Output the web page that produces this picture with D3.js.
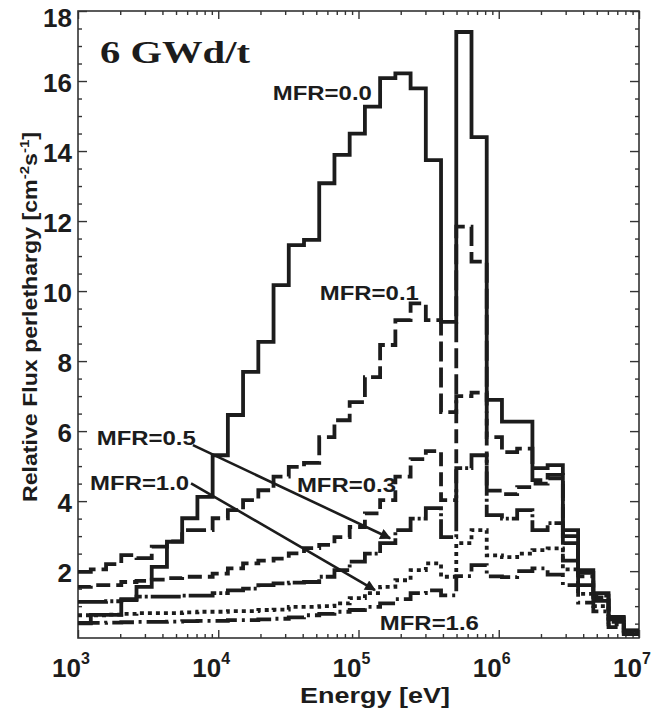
<!DOCTYPE html>
<html>
<head>
<meta charset="utf-8">
<script src="https://cdnjs.cloudflare.com/ajax/libs/d3/7.8.5/d3.min.js"></script>
<style>
body{margin:0;background:#fff;}
svg{display:block;}
text{font-family:"Liberation Sans",Arial,sans-serif;font-weight:bold;fill:#1c1c1c;}
</style>
</head>
<body>
<div id="chart"></div>
<script>

// group boundaries [eV], lethargy width 0.25, ascending
var edges=[1000,1234,1585,2035,2613,3355,4307,5531,7102,9119,
  11710,15030,19310,24790,31830,40870,52480,67380,86520,111100,
  142600,183200,235200,302000,387700,497900,639300,820800,1054000,1353000,
  1738000,2231000,2865000,3679000,4724000,6065000,7788000,10000000];

// relative flux per lethargy, one value per group
var mfr00=[0.52,0.75,0.75,1.17,1.55,2.12,2.84,3.51,4.12,5.31,
  6.46,7.69,8.55,10.17,11.31,11.46,13.08,13.89,14.5,15.27,
  16.08,16.22,15.79,13.74,9.12,17.4,14.4,6.89,6.27,6.27,
  4.94,5.03,3.17,2.03,1.37,0.69,0.31];
var mfr01=[1.98,2.05,2.2,2.46,2.37,2.7,2.85,3.17,3.17,3.51,
  3.74,4.03,4.31,4.7,4.98,5.09,5.83,6.31,6.83,7.54,
  8.46,9.17,9.65,9.17,6.54,11.84,10.84,5.83,5.4,5.5,
  4.6,4.75,3.0,1.95,1.3,0.66,0.3];
var mfr03=[1.55,1.6,1.6,1.69,1.72,1.76,1.8,1.84,1.84,1.93,
  2.08,2.22,2.3,2.36,2.51,2.66,2.75,2.97,3.26,3.65,
  4.03,4.7,5.2,5.43,4.03,7.0,7.1,4.3,4.2,4.4,
  4.5,4.65,2.8,1.85,1.25,0.62,0.28];
var mfr05=[1.12,1.12,1.14,1.2,1.27,1.27,1.27,1.3,1.3,1.37,
  1.45,1.5,1.6,1.65,1.67,1.69,1.84,2.03,2.27,2.5,
  2.8,3.17,3.5,3.8,2.97,4.94,5.31,3.6,3.5,3.74,
  3.17,3.37,2.3,1.6,1.15,0.55,0.26];
var mfr10=[0.74,0.74,0.76,0.78,0.8,0.8,0.8,0.82,0.84,0.84,
  0.86,0.86,0.89,0.9,0.98,0.98,1.0,1.08,1.23,1.37,
  1.55,1.74,2.03,2.22,1.84,2.8,3.17,2.45,2.4,2.5,
  2.6,2.65,2.05,1.35,1.0,0.48,0.24];
var mfr16=[0.51,0.52,0.53,0.54,0.55,0.55,0.56,0.57,0.58,0.58,
  0.6,0.6,0.62,0.64,0.68,0.74,0.78,0.84,0.89,0.98,
  1.08,1.2,1.37,1.45,1.31,1.86,2.17,1.85,1.83,2.0,
  2.08,1.9,1.6,1.1,0.85,0.4,0.2];

var yMajor=[2,4,6,8,10,12,14,16,18];
var xMajor=[1e3,1e4,1e5,1e6,1e7];
var xExp=["3","4","5","6","7"];

var labelText=["MFR=0.0","MFR=0.1","MFR=0.3","MFR=0.5","MFR=1.0","MFR=1.6"];
var labelE=[2.45e4,5.3e4,3.64e4,1.36e3,1.22e3,1.42e5];
var labelV=[15.46,9.74,4.26,5.6,4.31,0.31];

// arrows: [E0,V0,E1,V1]
var arrows=[[6.6e3,5.6,1.68e5,2.94],[6.4e3,4.51,1.31e5,1.46]];

var svgWidth=661, svgHeight=711;
var margin={top:11,right:22,bottom:73,left:78};
var width=svgWidth-margin.left-margin.right;
var height=svgHeight-margin.top-margin.bottom;

var svg=d3.select("#chart").append("svg")
  .attr("width",svgWidth)
  .attr("height",svgHeight);

var defs=svg.append("defs");
defs.append("clipPath").attr("id","clip")
  .append("rect").attr("width",width).attr("height",height);
defs.append("marker")
  .attr("id","head")
  .attr("viewBox","0 0 10 10")
  .attr("refX",9).attr("refY",5)
  .attr("markerWidth",5).attr("markerHeight",4.2)
  .attr("markerUnits","strokeWidth")
  .attr("orient","auto")
  .append("path").attr("d","M0,0L10,5L0,10z").attr("fill","#1c1c1c");

var g=svg.append("g")
  .attr("transform",`translate(${margin.left},${margin.top})`);

var x=d3.scaleLog().domain([1e3,1e7]).range([0,width]);
var y=d3.scaleLinear().domain([0.09,18]).range([height,0]);

// ticks
var xMinor=[];
xMajor.slice(0,4).forEach(function(d){
  for(var k=2;k<10;k++) xMinor.push(d*k);
});
var yMinor=d3.range(0.5,18,0.5).filter(d=>d%2!==0);

function noDomain(sel){ sel.select(".domain").remove(); sel.selectAll("line").attr("stroke","#333").attr("stroke-width",1.4); }

g.append("g").attr("transform",`translate(0,${height})`)
  .call(d3.axisBottom(x).tickValues(xMajor).tickSize(-8).tickFormat("")).call(noDomain);
g.append("g").attr("transform",`translate(0,${height})`)
  .call(d3.axisBottom(x).tickValues(xMinor).tickSize(-4).tickFormat("")).call(noDomain);
g.append("g")
  .call(d3.axisTop(x).tickValues(xMajor).tickSize(-8).tickFormat("")).call(noDomain);
g.append("g")
  .call(d3.axisTop(x).tickValues(xMinor).tickSize(-4).tickFormat("")).call(noDomain);
g.append("g")
  .call(d3.axisLeft(y).tickValues(yMajor).tickSize(-9).tickFormat("")).call(noDomain);
g.append("g")
  .call(d3.axisLeft(y).tickValues(yMinor).tickSize(-4).tickFormat("")).call(noDomain);
g.append("g").attr("transform",`translate(${width},0)`)
  .call(d3.axisRight(y).tickValues(yMajor).tickSize(-9).tickFormat("")).call(noDomain);
g.append("g").attr("transform",`translate(${width},0)`)
  .call(d3.axisRight(y).tickValues(yMinor).tickSize(-4).tickFormat("")).call(noDomain);

g.append("rect")
  .attr("width",width).attr("height",height)
  .attr("fill","none").attr("stroke","#333").attr("stroke-width",1.6);

// tick labels
g.selectAll(".ylab").data(yMajor).enter().append("text")
  .attr("class","ylab")
  .attr("x",-6)
  .attr("y",d=>Math.max(y(d)+11,16))
  .attr("text-anchor","end")
  .attr("font-size",26)
  .text(d=>d);

var xl=g.selectAll(".xlab").data(xMajor).enter().append("text")
  .attr("class","xlab")
  .attr("x",d=>x(d)-7)
  .attr("y",height+39)
  .attr("text-anchor","middle")
  .attr("font-size",26);
xl.append("tspan").text("10");
xl.append("tspan").attr("dy",-13).attr("font-size",16).text((d,i)=>xExp[i]);

// series
var series=[
  {values:mfr00, dash:null},
  {values:mfr01, dash:"20,6"},
  {values:mfr03, dash:"14,6"},
  {values:mfr05, dash:"30,3,3,3"},
  {values:mfr10, dash:"4,4"},
  {values:mfr16, dash:"22,5,3,5"}
];

var line=d3.line()
  .x(d=>x(d[0]))
  .y(d=>y(d[1]))
  .curve(d3.curveStepAfter);

var plot=g.append("g").attr("clip-path","url(#clip)");
series.forEach(function(s){
  var pts=s.values.map((v,i)=>[edges[i],v]);
  pts.push([edges[edges.length-1],s.values[s.values.length-1]]);
  plot.append("path")
    .attr("d",line(pts))
    .attr("fill","none")
    .attr("stroke","#1c1c1c")
    .attr("stroke-width",3.8)
    .attr("stroke-linejoin","miter")
    .attr("stroke-dasharray",s.dash);
});

// arrows
arrows.forEach(function(a){
  g.append("line")
    .attr("x1",x(a[0])).attr("y1",y(a[1]))
    .attr("x2",x(a[2])).attr("y2",y(a[3]))
    .attr("stroke","#1c1c1c").attr("stroke-width",2.6)
    .attr("marker-end","url(#head)");
});

// curve labels
labelText.forEach(function(t,i){
  g.append("text")
    .attr("x",x(labelE[i]))
    .attr("y",y(labelV[i]))
    .attr("font-size",21)
    .attr("textLength",99)
    .attr("lengthAdjust","spacingAndGlyphs")
    .text(t);
});

g.append("text")
  .attr("x",22).attr("y",52)
  .style("font-family","'Liberation Serif','Times New Roman',serif")
  .attr("font-size",32)
  .attr("textLength",150)
  .attr("lengthAdjust","spacingAndGlyphs")
  .text("6 GWd/t");

// axis titles
g.append("text")
  .attr("x",222).attr("y",height+65)
  .attr("font-size",22)
  .attr("textLength",150)
  .attr("lengthAdjust","spacingAndGlyphs")
  .text("Energy [eV]");

var yt=svg.append("text")
  .attr("transform","translate(37,502) rotate(-90)")
  .attr("font-size",20)
  .attr("textLength",370)
  .attr("lengthAdjust","spacingAndGlyphs");
yt.append("tspan").text("Relative Flux perlethargy [cm");
yt.append("tspan").attr("dy",-8).attr("font-size",13).text("-2");
yt.append("tspan").attr("dy",8).text("s");
yt.append("tspan").attr("dy",-8).attr("font-size",13).text("-1");
yt.append("tspan").attr("dy",8).text("]");

</script>
</body>
</html>
